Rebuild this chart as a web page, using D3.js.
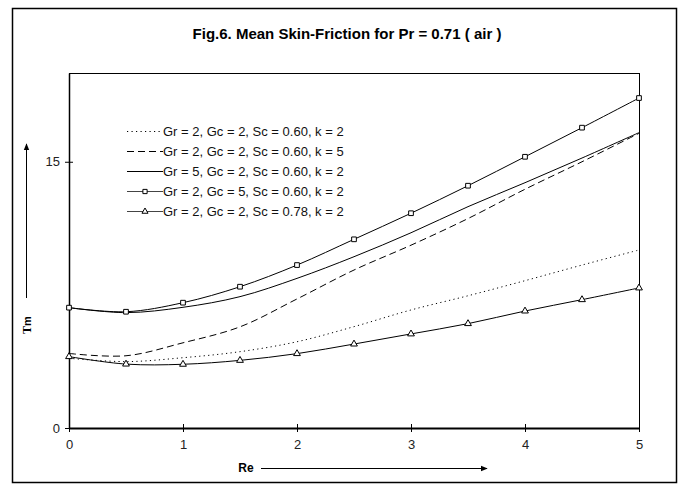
<!DOCTYPE html>
<html>
<head>
<meta charset="utf-8">
<script src="https://cdn.jsdelivr.net/npm/d3@7"></script>
<style>
  html, body { margin: 0; padding: 0; background: #fff; }
  svg { display: block; font-family: "Liberation Sans", Arial, sans-serif; }
</style>
</head>
<body>
<svg id="chart" width="684" height="488"></svg>
<script>
// ── Data ──────────────────────────────────────────────────────────────────

const reValues = [0, 0.5, 1, 1.5, 2, 2.5, 3, 3.5, 4, 4.5, 5];

const seriesLabels = [
  'Gr = 2, Gc = 2, Sc = 0.60, k = 2',
  'Gr = 2, Gc = 2, Sc = 0.60, k = 5',
  'Gr = 5, Gc = 2, Sc = 0.60, k = 2',
  'Gr = 2, Gc = 5, Sc = 0.60, k = 2',
  'Gr = 2, Gc = 2, Sc = 0.78, k = 2'
];

const tauBase  = [3.93, 3.74, 3.96, 4.30, 4.86, 5.71, 6.65, 7.45, 8.30, 9.18, 10.03];
const tauK5    = [4.20, 4.07, 4.80, 5.70, 7.27, 8.90, 10.30, 11.80, 13.45, 15.00, 16.60];
const tauGr5   = [6.78, 6.50, 6.80, 7.40, 8.43, 9.65, 11.00, 12.47, 13.82, 15.21, 16.64];
const tauGc5   = [6.78, 6.55, 7.06, 7.96, 9.18, 10.63, 12.10, 13.65, 15.28, 16.92, 18.59];
const tauSc078 = [4.02, 3.60, 3.59, 3.81, 4.19, 4.73, 5.30, 5.88, 6.59, 7.23, 7.89];

const xTicks = [0, 1, 2, 3, 4, 5];
const yTicks = [0, 15];

// ── Series table (values + drawing style) ─────────────────────────────────

const series = [
  { label: seriesLabels[0], values: tauBase,  dash: '1.2,3.3', marker: null },
  { label: seriesLabels[1], values: tauK5,    dash: '7,4',     marker: null },
  { label: seriesLabels[2], values: tauGr5,   dash: null,      marker: null },
  { label: seriesLabels[3], values: tauGc5,   dash: null,      marker: 'square' },
  { label: seriesLabels[4], values: tauSc078, dash: null,      marker: 'triangle' }
];

// ── Layout ─────────────────────────────────────────────────────────────────

const plot = { left: 69, right: 639, top: 73, bottom: 428 };
const sans = '"Liberation Sans", Arial, sans-serif';

const svg = d3.select('#chart');

const defs = svg.append('defs');
defs.append('marker')
  .attr('id', 'arrow')
  .attr('viewBox', '0 0 10 10')
  .attr('refX', 9).attr('refY', 5)
  .attr('markerWidth', 7).attr('markerHeight', 7)
  .attr('markerUnits', 'userSpaceOnUse')
  .attr('orient', 'auto')
  .append('path')
  .attr('d', 'M0,1 L10,5 L0,9 Z')
  .attr('fill', '#000');

// outer chart border
svg.append('rect')
  .attr('x', 12.5).attr('y', 8.5)
  .attr('width', 664).attr('height', 474)
  .attr('fill', '#fff')
  .attr('stroke', '#000')
  .attr('stroke-width', 1.5);

// title
svg.append('text')
  .attr('x', 347).attr('y', 39)
  .attr('text-anchor', 'middle')
  .attr('font-size', 15)
  .attr('font-weight', 'bold')
  .text('Fig.6. Mean Skin-Friction for Pr = 0.71 ( air )');

// ── Scales ─────────────────────────────────────────────────────────────────

const x = d3.scaleLinear().domain([0, 5]).range([plot.left, plot.right]);
const y = d3.scaleLinear().domain([0, 20]).range([plot.bottom, plot.top]);

// plot area frame
svg.append('rect')
  .attr('x', plot.left + 0.5).attr('y', plot.top + 0.5)
  .attr('width', plot.right - plot.left)
  .attr('height', plot.bottom - plot.top)
  .attr('fill', 'none')
  .attr('stroke', '#000')
  .attr('stroke-width', 1);

// ── Axes ───────────────────────────────────────────────────────────────────

const xAxis = svg.append('g')
  .attr('transform', `translate(0,${plot.bottom})`)
  .call(d3.axisBottom(x).tickValues(xTicks).tickFormat(d3.format('d'))
    .tickSizeInner(4).tickSizeOuter(0).tickPadding(8));
xAxis.select('.domain').attr('stroke-width', 2);
xAxis.selectAll('.tick line').attr('y1', -4).attr('stroke-width', 1);
xAxis.selectAll('.tick text').attr('font-size', 13).attr('fill', '#222')
  .attr('font-family', sans);

const yAxis = svg.append('g')
  .attr('transform', `translate(${plot.left},0)`)
  .call(d3.axisLeft(y).tickValues(yTicks).tickFormat(d3.format('d'))
    .tickSizeInner(4).tickSizeOuter(0).tickPadding(5));
yAxis.select('.domain').attr('stroke-width', 1.5);
yAxis.selectAll('.tick line').attr('x1', 4).attr('x2', -4).attr('stroke-width', 1);
yAxis.selectAll('.tick text').attr('font-size', 13).attr('fill', '#222')
  .attr('font-family', sans);

// axis titles with arrows
svg.append('text')
  .attr('x', 246).attr('y', 472)
  .attr('text-anchor', 'middle')
  .attr('font-size', 12)
  .attr('font-weight', 'bold')
  .text('Re');
svg.append('line')
  .attr('x1', 261).attr('y1', 468.5)
  .attr('x2', 487).attr('y2', 468.5)
  .attr('stroke', '#000').attr('stroke-width', 1)
  .attr('marker-end', 'url(#arrow)');

const yTitle = svg.append('text')
  .attr('transform', 'translate(31,325) rotate(-90)')
  .attr('text-anchor', 'middle')
  .attr('font-weight', 'bold');
yTitle.append('tspan')
  .attr('font-family', '"Liberation Serif", "Times New Roman", serif')
  .attr('font-size', 12)
  .text('T');
yTitle.append('tspan')
  .attr('font-size', 11)
  .text('m');
svg.append('line')
  .attr('x1', 26.5).attr('y1', 298)
  .attr('x2', 26.5).attr('y2', 144)
  .attr('stroke', '#000').attr('stroke-width', 1)
  .attr('marker-end', 'url(#arrow)');

// ── Series ─────────────────────────────────────────────────────────────────

const line = d3.line()
  .x((d, i) => x(reValues[i]))
  .y(d => y(d))
  .curve(d3.curveCatmullRom.alpha(0.5));

const symbolPath = (kind, size) =>
  kind === 'square'
    ? d3.symbol(d3.symbolSquare, size)()
    : d3.symbol(d3.symbolTriangle, size)();

const seriesG = svg.append('g');

series.forEach(s => {
  seriesG.append('path')
    .attr('d', line(s.values))
    .attr('fill', 'none')
    .attr('stroke', '#000')
    .attr('stroke-width', 1)
    .attr('stroke-dasharray', s.dash);

  if (s.marker) {
    seriesG.selectAll(null)
      .data(s.values)
      .join('path')
      .attr('transform', (d, i) => `translate(${x(reValues[i])},${y(d)})`)
      .attr('d', symbolPath(s.marker, s.marker === 'square' ? 22 : 20))
      .attr('fill', '#fff')
      .attr('stroke', '#000')
      .attr('stroke-width', 1);
  }
});

// ── Legend ────────────────────────────────────────────────────────────────

const legend = svg.append('g').attr('transform', 'translate(127,131)');
const rows = legend.selectAll('g')
  .data(series)
  .join('g')
  .attr('transform', (d, i) => `translate(0,${i * 20})`);

rows.append('line')
  .attr('x1', 0).attr('x2', 36)
  .attr('y1', 0.5).attr('y2', 0.5)
  .attr('stroke', d => d.marker ? '#444' : '#000')
  .attr('stroke-width', 1)
  .attr('stroke-dasharray', d => d.dash);

rows.filter(d => d.marker)
  .append('path')
  .attr('transform', 'translate(18,0.5)')
  .attr('d', d => symbolPath(d.marker, d.marker === 'square' ? 18 : 16))
  .attr('fill', '#fff')
  .attr('stroke', '#000')
  .attr('stroke-width', 1);

rows.append('text')
  .attr('x', 36)
  .attr('y', 5)
  .attr('font-size', 13)
  .attr('fill', '#111')
  .text(d => d.label);
</script>
</body>
</html>
